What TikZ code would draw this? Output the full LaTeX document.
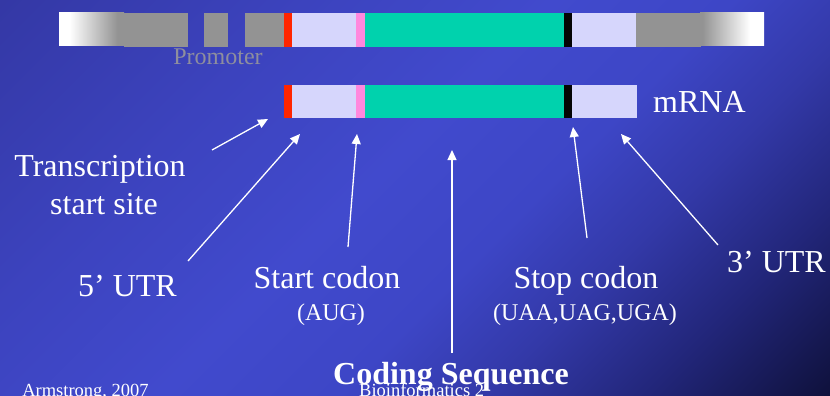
\documentclass[tikz,border=0pt]{standalone}
\usepackage{fontspec}
\setmainfont{Liberation Serif}
\usetikzlibrary{arrows.meta}
\definecolor{bgA}{HTML}{3438A5}
\definecolor{bgB}{HTML}{3C43BE}
\definecolor{bgC}{HTML}{414ACD}
\definecolor{bgD}{HTML}{3D46C6}
\definecolor{bgE}{HTML}{3339A8}
\definecolor{bgF}{HTML}{22267A}
\definecolor{bgG}{HTML}{0F113C}
\definecolor{grayc}{HTML}{939393}
\definecolor{redc}{HTML}{FF2600}
\definecolor{lavc}{HTML}{D6D6FC}
\definecolor{pinkc}{HTML}{FF88DD}
\definecolor{tealc}{HTML}{00D2AD}
\definecolor{blackc}{HTML}{050505}
\definecolor{promc}{HTML}{8E8E9E}
\pgfdeclarehorizontalshading{bgshade}{100bp}{color(0bp)=(bgA); color(14.6bp)=(bgA); color(32.3bp)=(bgB); color(46.5bp)=(bgC); color(57bp)=(bgD); color(65.5bp)=(bgE); color(74.8bp)=(bgF); color(85.4bp)=(bgG); color(100bp)=(bgG)}
\pgfdeclarehorizontalshading{fadeL}{100bp}{color(0bp)=(white); color(33bp)=(white); color(70bp)=(grayc); color(100bp)=(grayc)}
\pgfdeclarehorizontalshading{fadeR}{100bp}{color(0bp)=(grayc); color(27bp)=(grayc); color(64bp)=(white); color(100bp)=(white)}
\tikzset{
  seg/.style={anchor=north west, inner sep=0pt, outer sep=0pt, draw=none, minimum height=34pt},
  mseg/.style={anchor=north west, inner sep=0pt, outer sep=0pt, draw=none, minimum height=33pt},
  biglbl/.style={anchor=base, inner sep=0pt, text=white, font=\fontsize{32}{38}\selectfont},
  sublbl/.style={anchor=base, inner sep=0pt, text=white, font=\fontsize{24}{28}\selectfont},
  footlbl/.style={anchor=base, inner sep=0pt, text=white, font=\fontsize{18.5}{22}\selectfont},
  pointer/.style={draw=white, line width=1.3pt, -{Triangle[length=10pt,width=9pt]}},
}
\begin{document}
\begin{tikzpicture}[x=1pt,y=-1pt]
\useasboundingbox (0,0) rectangle (830,396);
\shade[shading=bgshade, shading angle=-45] (0,0) rectangle (830,396);
% genomic bar
\node[seg, shade, shading=fadeL, minimum width=65pt, minimum height=33pt] (gfadeL) at (59,13) {};
\node[seg, fill=grayc, minimum width=64pt] (gray1) at (124,13) {};
\node[seg, fill=grayc, minimum width=24pt] (gray2) at (204,13) {};
\node[seg, fill=grayc, minimum width=39pt] (gray3) at (245,13) {};
\node[seg, fill=redc, minimum width=8pt] (gred) at (284,13) {};
\node[seg, fill=lavc, minimum width=64pt] (glav1) at (292,13) {};
\node[seg, fill=pinkc, minimum width=9pt] (gpink) at (356,13) {};
\node[seg, fill=tealc, minimum width=199pt] (gteal) at (365,13) {};
\node[seg, fill=blackc, minimum width=8pt] (gblack) at (564,13) {};
\node[seg, fill=lavc, minimum width=64pt] (glav2) at (572,13) {};
\node[seg, fill=grayc, minimum width=65pt] (gray4) at (636,13) {};
\node[seg, shade, shading=fadeR, minimum width=64pt, minimum height=33pt] (gfadeR) at (700,13) {};
\node[anchor=base, inner sep=0pt, text=promc, font=\fontsize{24}{28}\selectfont] (prom) at (218,64) {Promoter};
% mRNA bar
\node[mseg, fill=redc, minimum width=8pt] (mred) at (284,85) {};
\node[mseg, fill=lavc, minimum width=64pt] (mlav1) at (292,85) {};
\node[mseg, fill=pinkc, minimum width=9pt] (mpink) at (356,85) {};
\node[mseg, fill=tealc, minimum width=199pt] (mteal) at (365,85) {};
\node[mseg, fill=blackc, minimum width=8pt] (mblack) at (564,85) {};
\node[mseg, fill=lavc, minimum width=65pt] (mlav2) at (572,85) {};
\node[biglbl, anchor=base west] (mrna) at (653,112) {mRNA};
% labels
\node[biglbl] (tss1) at (100,176) {Transcription};
\node[biglbl] (tss2) at (104,214) {start site};
\node[biglbl] (utr5) at (127.5,296) {5’ UTR};
\node[biglbl] (startc) at (327,288) {Start codon};
\node[sublbl] (startsub) at (331,320) {(AUG)};
\node[biglbl] (stopc) at (586,288) {Stop codon};
\node[sublbl] (stopsub) at (585,320) {(UAA,UAG,UGA)};
\node[biglbl] (utr3) at (776.5,272) {3’ UTR};
\node[biglbl, font=\fontsize{32}{38}\selectfont\bfseries] (cds) at (451,384) {Coding Sequence};
\node[footlbl] (auth) at (85.5,396) {Armstrong, 2007};
\node[footlbl, anchor=base west] (course) at (359,396) {Bioinformatics 2};
% arrow end points
\coordinate (tssT) at (212,150);  \coordinate (tssH) at (268,119);
\coordinate (u5T) at (188,261);   \coordinate (u5H) at (300,134);
\coordinate (scT) at (348,247);   \coordinate (scH) at (357,134);
\coordinate (cdT) at (452,353);   \coordinate (cdH) at (452,150);
\coordinate (stT) at (587,238);   \coordinate (stH) at (573,127);
\coordinate (u3T) at (718,245);   \coordinate (u3H) at (621,134);
\draw[pointer] (tssT) -- (tssH);
\draw[pointer] (u5T) -- (u5H);
\draw[pointer] (scT) -- (scH);
\draw[pointer] (cdT) -- (cdH);
\draw[pointer] (stT) -- (stH);
\draw[pointer] (u3T) -- (u3H);
\end{tikzpicture}
\end{document}
